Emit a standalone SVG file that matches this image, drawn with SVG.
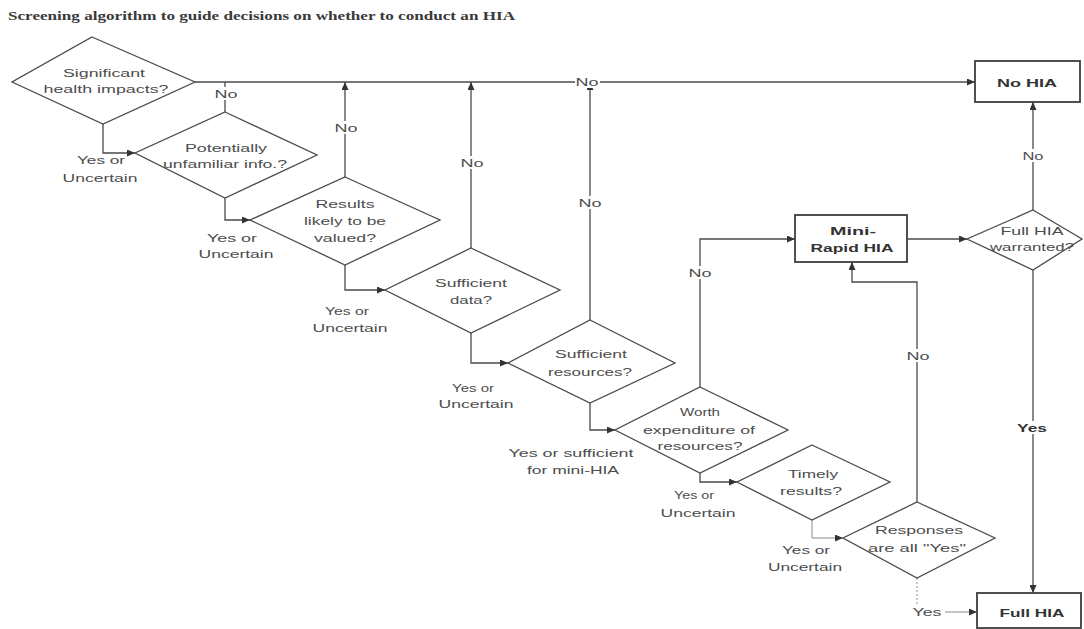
<svg xmlns="http://www.w3.org/2000/svg" width="1084" height="629" viewBox="0 0 1084 629">
<style>
.bg{fill:#ffffff}
.shape{fill:#ffffff;stroke:#4a4a4a;stroke-width:1.3}
.box{fill:#ffffff;stroke:#3e3e3e;stroke-width:1.8}
.t{font-family:"Liberation Sans",Arial,sans-serif;font-size:11px;fill:#4d4d4d;text-anchor:middle}
.tb{font-family:"Liberation Sans",Arial,sans-serif;font-size:11px;font-weight:bold;fill:#333333;text-anchor:middle}
.title{font-family:"Liberation Serif","Times New Roman",serif;font-size:13px;font-weight:bold;fill:#3a3a3a}
.ln{fill:none;stroke:#4a4a4a;stroke-width:1.3}
.lt{fill:none;stroke:#8a8a8a;stroke-width:1}
.dot{fill:none;stroke:#8a8a8a;stroke-width:1;stroke-dasharray:2,2}
.lbg{fill:#ffffff}
</style>
<defs>
<marker id="arr" markerWidth="8" markerHeight="7" refX="8" refY="3.5" orient="auto" markerUnits="userSpaceOnUse">
<path d="M0,0 L8,3.5 L0,7 z" fill="#333333"/>
</marker>
</defs>
<rect class="bg" x="0" y="0" width="1084" height="629"/>
<text class="title" x="8" y="20" textLength="507" lengthAdjust="spacingAndGlyphs">Screening algorithm to guide decisions on whether to conduct an HIA</text>

<g id="connectors">
<path class="ln" d="M195,82 H975" marker-end="url(#arr)"/>
<path class="ln" d="M103,124 V153 H135" marker-end="url(#arr)"/>
<path class="ln" d="M225,112 V82"/>
<path class="ln" d="M225,198 V220 H250" marker-end="url(#arr)"/>
<path class="ln" d="M345,177 V82" marker-end="url(#arr)"/>
<path class="ln" d="M345,265 V290 H385" marker-end="url(#arr)"/>
<path class="ln" d="M471,248 V82" marker-end="url(#arr)"/>
<path class="ln" d="M471,333 V363 H508" marker-end="url(#arr)"/>
<path class="ln" d="M590,320 V82" marker-end="url(#arr)"/>
<path class="ln" d="M590,403 V430 H615" marker-end="url(#arr)"/>
<path class="ln" d="M700,387 V239 H795" marker-end="url(#arr)"/>
<path class="ln" d="M700,473 V482 H737" marker-end="url(#arr)"/>
<path class="lt" d="M812,520 V538 H843" marker-end="url(#arr)"/>
<path class="ln" d="M917,502 V282 H852 V262" marker-end="url(#arr)"/>
<path class="dot" d="M917,578 V604"/>
<path class="lt" d="M945,612 H977" marker-end="url(#arr)"/>
<path class="ln" d="M907,239 H967" marker-end="url(#arr)"/>
<path class="ln" d="M1033,210 V102" marker-end="url(#arr)"/>
<path class="ln" d="M1033,270 V593" marker-end="url(#arr)"/>
<rect class="lbg" x="213" y="87" width="25" height="13"/>
<text class="t" x="226" y="98" textLength="23" lengthAdjust="spacingAndGlyphs">No</text>
<rect class="lbg" x="334" y="121" width="25" height="13"/>
<text class="t" x="346" y="132" textLength="23" lengthAdjust="spacingAndGlyphs">No</text>
<rect class="lbg" x="460" y="156" width="25" height="13"/>
<text class="t" x="472" y="167" textLength="23" lengthAdjust="spacingAndGlyphs">No</text>
<rect class="lbg" x="575" y="76" width="25" height="12"/>
<text class="t" x="587" y="86" textLength="23" lengthAdjust="spacingAndGlyphs">No</text>
<rect class="lbg" x="578" y="196" width="25" height="13"/>
<text class="t" x="590" y="207" textLength="23" lengthAdjust="spacingAndGlyphs">No</text>
<rect class="lbg" x="688" y="266" width="25" height="13"/>
<text class="t" x="700" y="277" textLength="23" lengthAdjust="spacingAndGlyphs">No</text>
<rect class="lbg" x="906" y="349" width="25" height="13"/>
<text class="t" x="918" y="360" textLength="23" lengthAdjust="spacingAndGlyphs">No</text>
<rect class="lbg" x="1021" y="149" width="25" height="13"/>
<text class="t" x="1033" y="160" textLength="21" lengthAdjust="spacingAndGlyphs">No</text>
<rect class="lbg" x="1015" y="421" width="36" height="13"/>
<text class="tb" x="1032" y="432" textLength="30" lengthAdjust="spacingAndGlyphs">Yes</text>
<text class="t" x="927" y="616" textLength="29" lengthAdjust="spacingAndGlyphs">Yes</text>
<text class="t" x="101" y="164" textLength="48" lengthAdjust="spacingAndGlyphs">Yes or</text>
<text class="t" x="100" y="182" textLength="75" lengthAdjust="spacingAndGlyphs">Uncertain</text>
<text class="t" x="232" y="242" textLength="50" lengthAdjust="spacingAndGlyphs">Yes or</text>
<text class="t" x="236" y="258" textLength="75" lengthAdjust="spacingAndGlyphs">Uncertain</text>
<text class="t" x="347" y="315" textLength="44" lengthAdjust="spacingAndGlyphs">Yes or</text>
<text class="t" x="350" y="332" textLength="75" lengthAdjust="spacingAndGlyphs">Uncertain</text>
<text class="t" x="473" y="392" textLength="42" lengthAdjust="spacingAndGlyphs">Yes or</text>
<text class="t" x="476" y="408" textLength="75" lengthAdjust="spacingAndGlyphs">Uncertain</text>
<text class="t" x="571" y="457" textLength="125" lengthAdjust="spacingAndGlyphs">Yes or sufficient</text>
<text class="t" x="573" y="474" textLength="92" lengthAdjust="spacingAndGlyphs">for mini-HIA</text>
<text class="t" x="694" y="499" textLength="40" lengthAdjust="spacingAndGlyphs">Yes or</text>
<text class="t" x="698" y="517" textLength="75" lengthAdjust="spacingAndGlyphs">Uncertain</text>
<text class="t" x="806" y="554" textLength="48" lengthAdjust="spacingAndGlyphs">Yes or</text>
<text class="t" x="805" y="571" textLength="74" lengthAdjust="spacingAndGlyphs">Uncertain</text>
</g>

<g id="d1">
<polygon class="shape" points="92,37 195,82 103,124 12,82"/>
<text class="t" x="104" y="77" textLength="82" lengthAdjust="spacingAndGlyphs">Significant</text>
<text class="t" x="106" y="93" textLength="125" lengthAdjust="spacingAndGlyphs">health impacts?</text>
</g>
<g id="d2">
<polygon class="shape" points="225,112 317,155 225,198 135,153"/>
<text class="t" x="226" y="152" textLength="82" lengthAdjust="spacingAndGlyphs">Potentially</text>
<text class="t" x="225" y="168" textLength="124" lengthAdjust="spacingAndGlyphs">unfamiliar info.?</text>
</g>
<g id="d3">
<polygon class="shape" points="345,177 440,220 345,265 250,220"/>
<text class="t" x="345" y="208" textLength="59" lengthAdjust="spacingAndGlyphs">Results</text>
<text class="t" x="345" y="225" textLength="82" lengthAdjust="spacingAndGlyphs">likely to be</text>
<text class="t" x="345" y="242" textLength="62" lengthAdjust="spacingAndGlyphs">valued?</text>
</g>
<g id="d4">
<polygon class="shape" points="471,248 560,290 471,333 385,290"/>
<text class="t" x="471" y="287" textLength="72" lengthAdjust="spacingAndGlyphs">Sufficient</text>
<text class="t" x="471" y="304" textLength="42" lengthAdjust="spacingAndGlyphs">data?</text>
</g>
<g id="d5">
<polygon class="shape" points="590,320 675,363 590,403 508,363"/>
<text class="t" x="591" y="358" textLength="72" lengthAdjust="spacingAndGlyphs">Sufficient</text>
<text class="t" x="590" y="376" textLength="84" lengthAdjust="spacingAndGlyphs">resources?</text>
</g>
<g id="d6">
<polygon class="shape" points="700,387 788,430 700,473 615,430"/>
<text class="t" x="700" y="416" textLength="40" lengthAdjust="spacingAndGlyphs">Worth</text>
<text class="t" x="699" y="434" textLength="112" lengthAdjust="spacingAndGlyphs">expenditure of</text>
<text class="t" x="700" y="450" textLength="85" lengthAdjust="spacingAndGlyphs">resources?</text>
</g>
<g id="d7">
<polygon class="shape" points="812,445 890,482 812,520 737,482"/>
<text class="t" x="813" y="478" textLength="50" lengthAdjust="spacingAndGlyphs">Timely</text>
<text class="t" x="811" y="495" textLength="62" lengthAdjust="spacingAndGlyphs">results?</text>
</g>
<g id="d8">
<polygon class="shape" points="917,502 995,538 917,578 843,538"/>
<text class="t" x="919" y="534" textLength="88" lengthAdjust="spacingAndGlyphs">Responses</text>
<text class="t" x="917" y="552" textLength="98" lengthAdjust="spacingAndGlyphs">are all "Yes"</text>
</g>
<g id="fullWarranted">
<polygon class="shape" points="1033,210 1082,239 1033,270 967,239"/>
<text class="t" x="1032" y="235" textLength="63" lengthAdjust="spacingAndGlyphs">Full HIA</text>
<text class="t" x="1032" y="251" textLength="84" lengthAdjust="spacingAndGlyphs">warranted?</text>
</g>
<g id="noHIA">
<rect class="box" x="975" y="61" width="105" height="41"/>
<text class="tb" x="1027" y="87" textLength="60" lengthAdjust="spacingAndGlyphs">No HIA</text>
</g>
<g id="miniHIA">
<rect class="box" x="795" y="215" width="112" height="47"/>
<text class="tb" x="853" y="235" textLength="46" lengthAdjust="spacingAndGlyphs">Mini-</text>
<text class="tb" x="852" y="252" textLength="83" lengthAdjust="spacingAndGlyphs">Rapid HIA</text>
</g>
<g id="fullHIA">
<rect class="box" x="977" y="593" width="104" height="35"/>
<text class="tb" x="1032" y="617" textLength="65" lengthAdjust="spacingAndGlyphs">Full HIA</text>
</g>
</svg>
